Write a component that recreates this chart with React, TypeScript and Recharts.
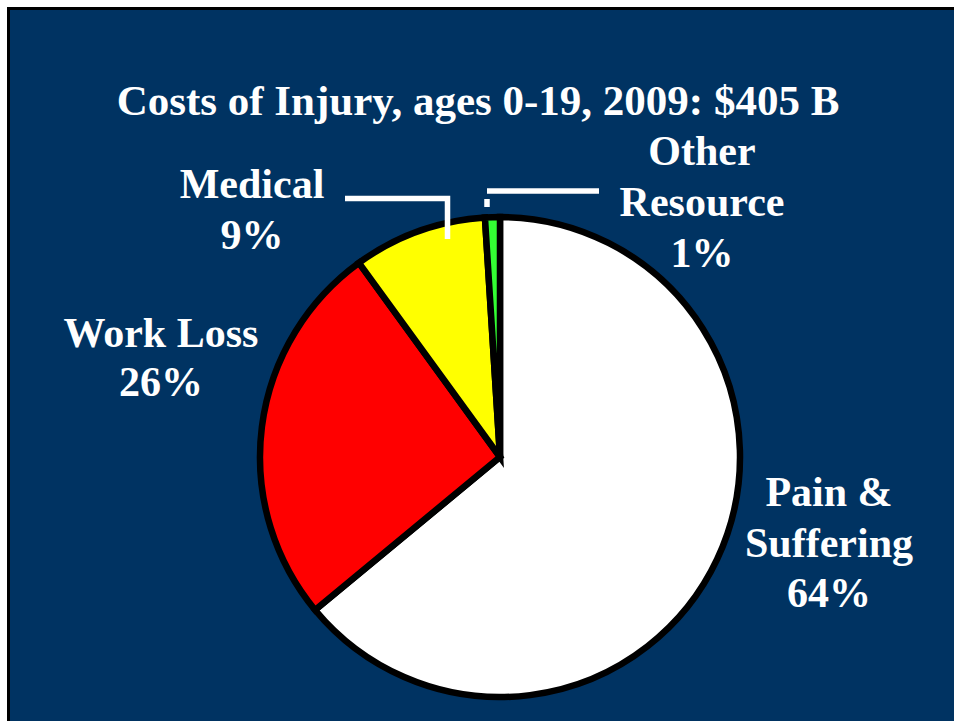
import React from 'react';
import { PieChart, Pie, Cell } from 'recharts';

// chart data
const categories = ['Pain & Suffering', 'Work Loss', 'Medical', 'Other Resource'];
const shares = [64, 26, 9, 1];
const sliceColors = ['#FFFFFF', '#FF0000', '#FFFF00', '#33FF33'];
const labelText = [['Pain &', 'Suffering'], ['Work Loss'], ['Medical'], ['Other', 'Resource']];

const TITLE = 'Costs of Injury, ages 0-19, 2009: $405 B';
const NAVY = '#003362';
const FONT = '"Liberation Serif", "Times New Roman", serif';

// label placement, relative to the pie centre
const labelLayout = [
  { dx: 329, dy: 49, step: 50.5, leader: null },
  { dx: -339, dy: -110, step: 49, leader: null },
  {
    dx: -248,
    dy: -259,
    step: 51,
    leader: [[[-155, -258.5], [-52.5, -258.5], [-52.5, -218]]],
  },
  {
    dx: 202,
    dy: -292,
    step: 51,
    leader: [
      [[99, -266], [-13, -266]],
      [[-13, -258], [-13, -250]],
    ],
  },
];

const data = categories.map((name, i) => ({ name, value: shares[i] }));

// eslint-disable-next-line @typescript-eslint/no-explicit-any
const renderLabel = (props: any) => {
  const { cx, cy, index, value } = props;
  const l = labelLayout[index];
  const lines = [...labelText[index], `${value}%`];
  return (
    <g key={`lbl-${index}`}>
      {l.leader &&
        l.leader.map((pts, j) => (
          <polyline
            key={j}
            points={pts.map(([x, y]) => `${cx + x},${cy + y}`).join(' ')}
            fill="none"
            stroke="#FFFFFF"
            strokeWidth={5.5}
            strokeLinejoin="miter"
          />
        ))}
      {lines.map((t, j) => (
        <text
          key={t}
          x={cx + l.dx}
          y={cy + l.dy + j * l.step}
          textAnchor="middle"
          fill="#FFFFFF"
          fontFamily={FONT}
          fontWeight="bold"
          fontSize={42}
        >
          {t}
        </text>
      ))}
    </g>
  );
};

export default function App() {
  return (
    <div
      style={{
        position: 'absolute',
        left: 0,
        top: 0,
        width: 954,
        height: 721,
        background: '#FFFFFF',
        overflow: 'hidden',
      }}
    >
      <div
        style={{
          position: 'absolute',
          left: 7,
          top: 7,
          width: 960,
          height: 730,
          background: NAVY,
          borderLeft: '3px solid #000',
          borderTop: '3px solid #000',
        }}
      />
      <div
        style={{
          position: 'absolute',
          left: 0,
          top: 79,
          width: 956,
          textAlign: 'center',
          fontFamily: FONT,
          fontWeight: 'bold',
          fontSize: 43,
          lineHeight: '43px',
          color: '#FFFFFF',
          whiteSpace: 'nowrap',
        }}
      >
        {TITLE}
      </div>
      <div style={{ position: 'absolute', left: 0, top: 0 }}>
        <PieChart width={954} height={721} margin={{ top: 0, right: 0, bottom: 0, left: 0 }}>
          <Pie
            data={data}
            dataKey="value"
            nameKey="name"
            cx={500}
            cy={457}
            outerRadius={240}
            startAngle={90}
            endAngle={-270}
            stroke="#000000"
            strokeWidth={6.5}
            label={renderLabel}
            labelLine={false}
            isAnimationActive={false}
          >
            {data.map((d, i) => (
              <Cell key={d.name} fill={sliceColors[i]} />
            ))}
          </Pie>
        </PieChart>
      </div>
    </div>
  );
}
